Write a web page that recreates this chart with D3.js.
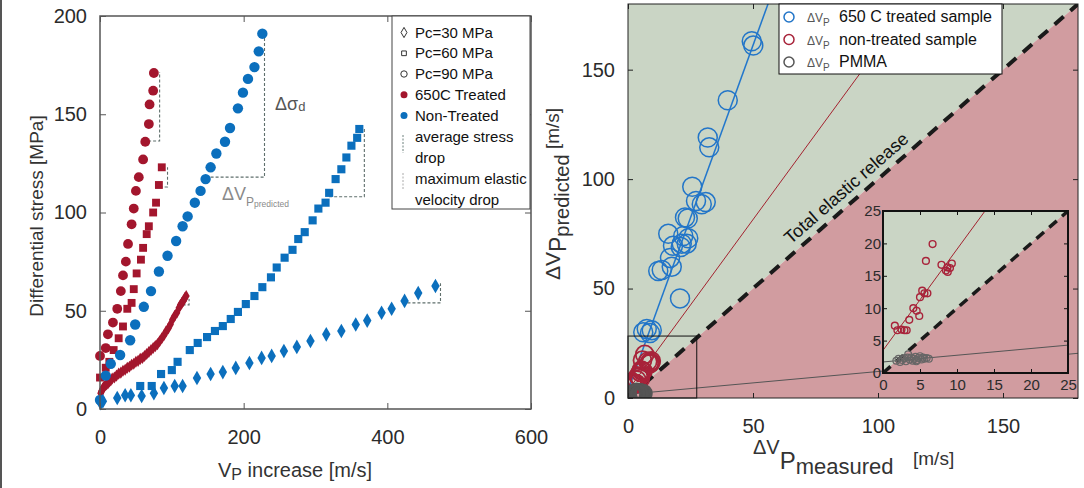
<!DOCTYPE html>
<html>
<head>
<meta charset="utf-8">
<script src="https://cdn.jsdelivr.net/npm/d3@7"></script>
<style>
body{margin:0;background:#fff;}
svg{display:block;font-family:"Liberation Sans",Arial,sans-serif;}
</style>
</head>
<body>
<svg id="fig" width="1084" height="488"></svg>
<script>
// ---- left panel: [Vp increase m/s, differential stress MPa] ----
var treated90 = [[0,27],[8,31],[11,38],[18,44],[24,51],[29,60],[32,68],[36,75],[39,84],[44,94],[47,102],[50,111],[54,118],[60,127],[63,136],[68,145],[69,155],[74,162],[75,171]];
var treated60 = [[0,16],[8,21],[13,24],[19,30],[26,36],[32,42],[38,51],[44,54],[47,61],[51,69],[57,76],[60,82],[65,89],[68,93],[74,100],[78,105],[82,114],[86,123]];
var treated30 = [[1,8],[2,9],[3,9.5],[4,10.5],[5,11],[7,12],[9,12.5],[11,13],[13,14],[15,14.5],[17,15.5],[20,16],[23,17],[26,18],[29,18.5],[32,19.5],[35,20],[38,21],[41,21.5],[44,22.5],[47,23],[50,24],[53,24.5],[56,25.5],[59,26],[62,27],[65,28],[68,29],[71,30],[74,31],[77,32],[80,33],[83,34.5],[86,36],[89,37.5],[92,39.5],[95,41],[98,43],[101,45.5],[104,47.5],[107,49],[110,51.5],[112,53],[114,54],[116,55],[118,56.5],[120,57.5]];
var nonTreated90 = [[0,4.6],[8,17],[15,23],[28,27.5],[42,35],[49,43],[61,52],[71,60],[82,70],[94,78],[106,85.5],[115,93],[122,98],[132,105],[140,111],[147,117],[154,123],[162,130],[174,136],[181,143],[192,153],[199,161],[206,168],[215,174],[221,182],[226,191]];
var nonTreated60 = [[56,11.7],[72,11.7],[85,17.8],[100,19.8],[108,24],[125,30],[136,33.6],[149,36.6],[160,39.7],[171,42.2],[182,45.8],[192,49.4],[203,53.4],[215,57.5],[226,62],[238,67],[246,72],[257,77],[268,81],[276,86.5],[285,90],[296,96],[304,102],[314,105],[319,110],[328,117],[336,122],[343,128],[350,134],[358,138],[361,142.5]];
var nonTreated30 = [[1,3],[4,4],[24,5.6],[35,7],[43,7],[58,6.6],[75,8],[89,10.7],[104,11.7],[115,11.7],[135,15.8],[154,17.8],[171,18.8],[189,20.9],[208,23.4],[225,26],[239,27],[256,29.5],[274,31.6],[293,34.6],[315,38],[336,39.7],[356,43],[372,45],[392,49],[406,51],[424,55],[443,59],[467,62.6]];
// stress drop brackets: [x start, x end, top, bottom]
var dropBrackets = [[60,83,171.5,136.4],[83,94,123,113],[147,229,191,118],[319,368,143,108],[428,474,64,54],[115,124,56,53]];
var leftXTicks = [0,200,400,600];
var leftYTicks = [0,50,100,150,200];
var leftLegend = ["Pc=30 MPa","Pc=60 MPa","Pc=90 MPa","650C Treated","Non-Treated"];

// ---- right panel: [dVp measured, dVp predicted] ----
var treatedDv = [[49.5,163],[50.1,161],[39.9,136],[31.9,119],[32.5,114.5],[25.7,96.5],[27.2,90],[31.1,89.5],[29.5,88.5],[23.9,82],[22.8,82.5],[16.1,75],[22.1,74],[24.1,73],[18,69.5],[21.5,70.5],[21.1,69],[23.5,70.5],[16.8,64],[17.5,60],[13.5,58.5],[12.1,58],[20.8,45.5],[7.5,31.5],[9.5,31],[6.1,30],[8.8,29.7]];
var nonTreatedDv = [[1.6,7.3],[1.95,6.6],[2.5,6.7],[2.9,6.6],[3.2,6.6],[3.55,8.2],[4.1,10],[4.55,9.6],[4.9,8.8],[5,11.7],[5.3,12.7],[5.6,12.3],[6,12.3],[5.8,17.3],[6.7,19.9],[7.9,16.7],[8.5,15.8],[8.7,16.3],[9.05,16.2],[9.3,16.9],[8.75,15.6]];
var pmmaDv = [[1.8,1.9],[2.1,2.2],[2.3,1.7],[2.6,2.0],[2.9,2.3],[3.1,1.8],[3.4,2.9],[3.6,2.1],[3.8,2.4],[4.0,1.9],[4.2,2.2],[4.4,2.5],[4.6,2.0],[4.8,2.3],[5.0,2.6],[5.2,2.1],[5.4,2.4],[5.6,2.2],[5.9,2.3],[6.2,2.2],[4.5,1.8],[3.3,2.4]];
var fitSlopes = [3.15, 1.56, 0.104];
var fitIntercepts = [3.6, 3.5, 1.7];
var zoomBox = [27.5, 28.3];
var rightTicks = [0,50,100,150];
var insetTicks = [0,5,10,15,20,25];
var rightLegend = ["650 C treated sample","non-treated sample","PMMA"];

var red = "#a3162d", blue = "#0b6fbd";
var green = "#cad5c5", pink = "#d19ca0";
var svg = d3.select("#fig");

function drawAxes(x, y, xTicks, yTicks, tick, padX, padY, font, color, width){
    var x0 = x.range()[0], x1 = x.range()[1], y0 = y.range()[0], y1 = y.range()[1];
    var fmt = d3.format("d");
    var gs = [];
    gs.push(svg.append("g").attr("transform","translate(0,"+y0+")")
        .call(d3.axisBottom(x).tickValues(xTicks).tickSize(-tick).tickPadding(padX).tickFormat(fmt)));
    gs.push(svg.append("g").attr("transform","translate("+x0+",0)")
        .call(d3.axisLeft(y).tickValues(yTicks).tickSize(-tick).tickPadding(padY).tickFormat(fmt)));
    gs.push(svg.append("g").attr("transform","translate(0,"+y1+")")
        .call(d3.axisTop(x).tickValues(xTicks).tickSize(-tick).tickFormat("")));
    gs.push(svg.append("g").attr("transform","translate("+x1+",0)")
        .call(d3.axisRight(y).tickValues(yTicks).tickSize(-tick).tickFormat("")));
    gs.forEach(function(g){
        g.attr("font-family",null).attr("font-size",font);
        g.select(".domain").remove();
        g.selectAll("line").attr("stroke",color).attr("stroke-width",1);
        g.selectAll("text").attr("fill","#2b2b2b");
    });
    svg.append("rect")
        .attr("x",x0).attr("y",y1)
        .attr("width",x1-x0).attr("height",y0-y1)
        .attr("fill","none").attr("stroke",color).attr("stroke-width",width);
}

// ================= left panel =================
function drawLeft(){
    var x = d3.scaleLinear().domain([0,600]).range([100,531]);
    var y = d3.scaleLinear().domain([0,200]).range([409,16]);

    var g = svg.append("g");
    g.selectAll(".bracket").data(dropBrackets).enter().append("path")
        .attr("d",function(d){ return "M"+x(d[0])+","+y(d[3])+"H"+x(d[1])+"V"+y(d[2]); })
        .attr("fill","none").attr("stroke","#5f6f6c").attr("stroke-width",1.1)
        .attr("stroke-dasharray","3,2");

    g.selectAll(".r90").data(treated90).enter().append("circle")
        .attr("cx",function(d){return x(d[0])}).attr("cy",function(d){return y(d[1])})
        .attr("r",4.9).attr("fill",red);
    g.selectAll(".r60").data(treated60).enter().append("path")
        .attr("d",d3.symbol(d3.symbolSquare).size(62))
        .attr("transform",function(d){return "translate("+x(d[0])+","+y(d[1])+")"})
        .attr("fill",red);
    g.selectAll(".r30").data(treated30).enter().append("path")
        .attr("d",d3.symbol(d3.symbolDiamond).size(42))
        .attr("transform",function(d){return "translate("+x(d[0])+","+y(d[1])+")"})
        .attr("fill",red);
    g.selectAll(".b90").data(nonTreated90).enter().append("circle")
        .attr("cx",function(d){return x(d[0])}).attr("cy",function(d){return y(d[1])})
        .attr("r",5.2).attr("fill",blue);
    g.selectAll(".b60").data(nonTreated60).enter().append("path")
        .attr("d",d3.symbol(d3.symbolSquare).size(66))
        .attr("transform",function(d){return "translate("+x(d[0])+","+y(d[1])+")"})
        .attr("fill",blue);
    g.selectAll(".b30").data(nonTreated30).enter().append("path")
        .attr("d",d3.symbol(d3.symbolDiamond).size(62))
        .attr("transform",function(d){return "translate("+x(d[0])+","+y(d[1])+")"})
        .attr("fill",blue);

    drawAxes(x, y, leftXTicks, leftYTicks, 6, 21, 13, 20, "#555", 1.5);

    // annotations
    var t1 = svg.append("text").attr("x",275).attr("y",110).attr("fill","#555").attr("font-size",18);
    t1.append("tspan").text("Δσ");
    t1.append("tspan").attr("font-size",13).attr("dy",1).text("d");
    var t2 = svg.append("text").attr("x",222).attr("y",200).attr("fill","#8a8a8a").attr("font-size",18);
    t2.append("tspan").text("ΔV");
    t2.append("tspan").attr("font-size",12).attr("dy",6).text("P");
    t2.append("tspan").attr("font-size",8.5).attr("dy",1).text("predicted");

    // legend
    var lg = svg.append("g");
    lg.append("rect").attr("x",392).attr("y",16).attr("width",138).attr("height",193)
        .attr("fill","#fff").attr("stroke","#444").attr("stroke-width",1);
    var rows = [37.5,58.3,79,99.8,120.6];
    lg.append("path").attr("d",d3.symbol(d3.symbolDiamond).size(30))
        .attr("transform","translate(404,"+(rows[0]-5)+")").attr("fill","none").attr("stroke","#333");
    lg.append("path").attr("d",d3.symbol(d3.symbolSquare).size(22))
        .attr("transform","translate(404,"+(rows[1]-5)+")").attr("fill","none").attr("stroke","#333");
    lg.append("circle").attr("cx",404).attr("cy",rows[2]-5).attr("r",3.2)
        .attr("fill","none").attr("stroke","#333");
    lg.append("circle").attr("cx",404).attr("cy",rows[3]-5).attr("r",3.5).attr("fill",red);
    lg.append("circle").attr("cx",404).attr("cy",rows[4]-5).attr("r",3.5).attr("fill",blue);
    lg.selectAll(".lt").data(leftLegend).enter().append("text")
        .attr("x",415).attr("y",function(d,i){return rows[i]})
        .attr("font-size",15).attr("fill","#111").text(function(d){return d});
    var extra = [["average stress",142],["drop",163],["maximum elastic",184],["velocity drop",205]];
    lg.selectAll(".le").data(extra).enter().append("text")
        .attr("x",415).attr("y",function(d){return d[1]})
        .attr("font-size",15).attr("fill","#111").text(function(d){return d[0]});
    lg.append("line").attr("x1",403).attr("x2",403).attr("y1",135).attr("y2",153)
        .attr("stroke","#6d807c").attr("stroke-dasharray","2,1.5");
    lg.append("line").attr("x1",403).attr("x2",403).attr("y1",173).attr("y2",190)
        .attr("stroke","#aaa").attr("stroke-dasharray","2,1.5");

    // axis titles
    svg.append("text").attr("transform","translate(43,216) rotate(-90)")
        .attr("text-anchor","middle").attr("font-size",19).attr("fill","#333")
        .text("Differential stress [MPa]");
    var xt = svg.append("text").attr("x",218).attr("y",477).attr("font-size",20).attr("fill","#333");
    xt.append("tspan").text("V");
    xt.append("tspan").attr("font-size",16).attr("dy",3).text("P");
    xt.append("tspan").attr("dy",-3).text(" increase [m/s]");
}

// ================= right panel =================
function drawRight(){
    var x = d3.scaleLinear().domain([0,180]).range([628,1078]);
    var y = d3.scaleLinear().domain([0,180]).range([398,4]);
    var line = d3.line().x(function(d){return x(d[0])}).y(function(d){return y(d[1])});

    svg.append("defs").append("clipPath").attr("id","clipR")
        .append("rect").attr("x",628).attr("y",4).attr("width",450).attr("height",394);
    var g = svg.append("g").attr("clip-path","url(#clipR)");
    g.append("path").attr("d",line([[0,0],[0,180],[180,180]])+"Z").attr("fill",green);
    g.append("path").attr("d",line([[0,0],[180,0],[180,180]])+"Z").attr("fill",pink);
    g.append("path").attr("d",line([[0,0],[180,180]]))
        .attr("stroke","#1a1a1a").attr("stroke-width",4).attr("stroke-dasharray","12,9").attr("fill","none");

    var fitColors = ["#2277cc","#a3222f","#555"];
    var fitWidths = [1.5,1,1];
    fitSlopes.forEach(function(s,i){
        g.append("path").attr("d",line([[0,fitIntercepts[i]],[180,fitIntercepts[i]+180*s]]))
            .attr("stroke",fitColors[i]).attr("stroke-width",fitWidths[i]).attr("fill","none");
    });

    g.selectAll(".tb").data(treatedDv).enter().append("circle")
        .attr("cx",function(d){return x(d[0])}).attr("cy",function(d){return y(d[1])})
        .attr("r",9.5).attr("fill","none").attr("stroke","#2275c8").attr("stroke-width",1.5);
    g.selectAll(".nr").data(nonTreatedDv).enter().append("circle")
        .attr("cx",function(d){return x(d[0])}).attr("cy",function(d){return y(d[1])})
        .attr("r",9).attr("fill","none").attr("stroke","#a8233a").attr("stroke-width",1.8);
    g.selectAll(".pm").data(pmmaDv).enter().append("circle")
        .attr("cx",function(d){return x(d[0])}).attr("cy",function(d){return y(d[1])})
        .attr("r",8).attr("fill","none").attr("stroke","#555").attr("stroke-width",2.5);

    svg.append("rect").attr("x",x(0)).attr("y",y(zoomBox[1]))
        .attr("width",x(zoomBox[0])-x(0)).attr("height",y(0)-y(zoomBox[1]))
        .attr("fill","none").attr("stroke","#111").attr("stroke-width",1);

    // diagonal label
    var ang = Math.atan((y(0)-y(180))/(x(180)-x(0)))*180/Math.PI;
    svg.append("text").attr("transform","translate("+x(91)+","+y(91)+") rotate("+(-ang)+")")
        .attr("y",-8).attr("text-anchor","middle").attr("font-size",18).attr("fill","#111")
        .text("Total elastic release");

    drawInset();
    drawAxes(x, y, rightTicks, rightTicks, 5, 21, 13, 20, "#222", 1);

    // legend
    var lg = svg.append("g");
    lg.append("rect").attr("x",779).attr("y",4).attr("width",223).attr("height",70)
        .attr("fill","#fff").attr("stroke","#111").attr("stroke-width",1);
    var cols = ["#2275c8","#a8233a","#555"];
    rightLegend.forEach(function(d,i){
        var cy = 17 + i*22.5;
        lg.append("circle").attr("cx",789).attr("cy",cy).attr("r",5)
            .attr("fill","none").attr("stroke",cols[i]).attr("stroke-width",1.5);
        var t = lg.append("text").attr("x",807).attr("y",cy+5).attr("fill","#555").attr("font-size",12);
        t.append("tspan").text("ΔV");
        t.append("tspan").attr("font-size",10).attr("dy",4).text("P");
        t.append("tspan").attr("x",839).attr("dy",-4).attr("font-size",16).attr("fill","#111").text(d);
    });

    // axis titles
    var yt = svg.append("text").attr("transform","translate(560,194) rotate(-90)")
        .attr("text-anchor","middle").attr("fill","#333").attr("font-size",21);
    yt.append("tspan").text("ΔV");
    yt.append("tspan").attr("font-size",23).attr("dy",6).text("P");
    yt.append("tspan").attr("font-size",20).attr("dy",3).text("predicted");
    yt.append("tspan").attr("font-size",19).attr("dy",-10).text(" [m/s]");

    var xt = svg.append("text").attr("x",753).attr("y",454).attr("fill","#333").attr("font-size",20);
    xt.append("tspan").text("ΔV");
    xt.append("tspan").attr("font-size",24).attr("dy",15).text("P");
    xt.append("tspan").attr("font-size",22).attr("dy",5).text("measured");
    xt.append("tspan").attr("x",913).attr("font-size",19).attr("dy",-9).text("[m/s]");
}

function drawInset(){
    var x = d3.scaleLinear().domain([0,25]).range([883,1068]);
    var y = d3.scaleLinear().domain([0,25]).range([373,211]);
    var line = d3.line().x(function(d){return x(d[0])}).y(function(d){return y(d[1])});

    svg.select("defs").append("clipPath").attr("id","clipI")
        .append("rect").attr("x",883).attr("y",211).attr("width",185).attr("height",162);
    var g = svg.append("g").attr("clip-path","url(#clipI)");
    g.append("path").attr("d",line([[0,0],[0,25],[25,25]])+"Z").attr("fill",green);
    g.append("path").attr("d",line([[0,0],[25,0],[25,25]])+"Z").attr("fill",pink);
    g.append("path").attr("d",line([[0,0],[25,25]]))
        .attr("stroke","#1a1a1a").attr("stroke-width",3.5).attr("stroke-dasharray","10,7").attr("fill","none");
    g.append("path").attr("d",line([[0,fitIntercepts[1]],[25,fitIntercepts[1]+25*fitSlopes[1]]]))
        .attr("stroke","#a3222f").attr("stroke-width",1).attr("fill","none");
    g.append("path").attr("d",line([[0,fitIntercepts[2]],[25,fitIntercepts[2]+25*fitSlopes[2]]]))
        .attr("stroke","#555").attr("stroke-width",1).attr("fill","none");
    g.selectAll(".inr").data(nonTreatedDv).enter().append("circle")
        .attr("cx",function(d){return x(d[0])}).attr("cy",function(d){return y(d[1])})
        .attr("r",3.4).attr("fill","none").attr("stroke","#a8233a").attr("stroke-width",1.4);
    g.selectAll(".ipm").data(pmmaDv).enter().append("circle")
        .attr("cx",function(d){return x(d[0])}).attr("cy",function(d){return y(d[1])})
        .attr("r",3.4).attr("fill","none").attr("stroke","#666").attr("stroke-width",1.2);

    drawAxes(x, y, insetTicks, insetTicks, 4, 6, 2, 15, "#111", 2);
}

// figure edge
svg.append("line").attr("x1",1).attr("x2",1).attr("y1",0).attr("y2",488)
    .attr("stroke","#555").attr("stroke-width",2);

drawLeft();
drawRight();
</script>
</body>
</html>
